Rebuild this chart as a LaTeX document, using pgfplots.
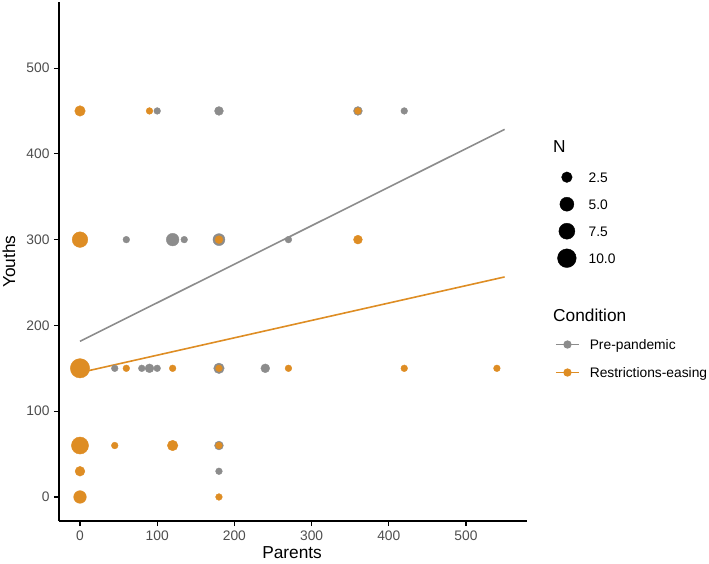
\documentclass[border=0pt]{standalone}
\usepackage{pgfplots}
\pgfplotsset{compat=1.18}
\usepackage{fontspec}
\setmainfont{Liberation Sans}
\definecolor{pre}{HTML}{8C8C8C}
\definecolor{rest}{HTML}{DE8D24}
\definecolor{ticktext}{HTML}{4D4D4D}

\pgfplotstableread{
x y N
100 450 1
180 450 2
360 450 2
420 450 1
60 300 1
120 300 4.5
135 300 1
180 300 4
270 300 1
45 150 1
80 150 1
90 150 2
100 150 1
180 150 3
240 150 2
180 60 2
180 30 1
}\pre

\pgfplotstableread{
x y N
0 450 3
90 450 1
360 450 1
0 300 7
180 300 1.5
360 300 2
0 150 11
60 150 1
120 150 1
180 150 1
270 150 1
420 150 1
540 150 1
0 60 8.5
45 60 1
120 60 3
180 60 1
0 30 2.5
0 0 4.5
180 0 1
}\rest

\pgfplotsset{
  legimg/.style={legend image code/.code={%
    \path (0pt,-1pt) (23pt,1pt);
    \draw[##1,mark repeat=2,mark phase=2] plot coordinates {(0pt,0pt) (11.5pt,0pt) (23pt,0pt)};}},
}

\begin{document}
\begin{tikzpicture}
\path[use as bounding box] (-59pt,-42pt) rectangle (650pt,521pt);
\begin{axis}[
  name=main,
  at={(0pt,0pt)}, anchor=south west,
  scale only axis,
  width=468pt, height=519pt,
  xmin=-27.2, xmax=579, ymin=-28, ymax=577,
  axis lines*=left,
  axis line style={black, line width=1.1pt},
  tick style={black, line width=1.1pt},
  tick align=outside,
  major tick length=5pt,
  xtick={0,100,...,500}, ytick={0,100,...,500},
  /pgf/number format/assume math mode=true,
  tick label style={font=\fontsize{13.8}{16}\selectfont, text=ticktext},
  xticklabel style={yshift=-1pt},
  yticklabel style={xshift=-1pt},
  xlabel={Parents}, ylabel={Youths},
  label style={font=\fontsize{17.3}{20}\selectfont, text=black},
  xlabel style={at={(axis description cs:0.498,-0.0617)}, anchor=center},
  ylabel style={at={(axis description cs:-0.1068,0.5)}, anchor=center, rotate=0},
  clip=false,
  legimg,
  legend style={
    at={(axis description cs:1.0598,0.3597)}, anchor=north west,
    draw=none, fill=none, inner sep=0pt, row sep=8pt, column sep=10pt,
    font=\fontsize{13.8}{16}\selectfont, text=black,
    nodes={inner sep=0pt, minimum height=20pt, text height=9.9pt, text depth=0pt},
  },
  legend cell align=left,
]
\addplot[scatter, only marks, mark=*,
  scatter/use mapped color={draw=pre, fill=pre},
  visualization depends on={sqrt(12+33*\thisrow{N})/2 \as \rad},
  scatter/@pre marker code/.append style={/tikz/mark size=\rad pt},
  forget plot] table[x=x,y=y] {\pre};
\addplot[scatter, only marks, mark=*,
  scatter/use mapped color={draw=rest, fill=rest},
  visualization depends on={sqrt(12+33*\thisrow{N})/2 \as \rad},
  scatter/@pre marker code/.append style={/tikz/mark size=\rad pt},
  forget plot] table[x=x,y=y] {\rest};
\addplot[pre, line width=1.6pt, forget plot] coordinates {(0,181.5) (550,428.5)};
\addplot[rest, line width=1.6pt, forget plot] coordinates {(0,145) (550,256.5)};
\addlegendimage{pre, line width=1.6pt, mark=*, mark size=3.3pt}
\addlegendentry{Pre-pandemic}
\addlegendimage{rest, line width=1.6pt, mark=*, mark size=3.3pt}
\addlegendentry{Restrictions-easing}
\end{axis}
\begin{axis}[
  at={(0pt,0pt)}, anchor=south west,
  scale only axis,
  width=468pt, height=519pt,
  xmin=-27.2, xmax=579, ymin=-28, ymax=577,
  hide axis,
  legimg,
  legend style={
    at={(axis description cs:1.0598,0.6821)}, anchor=north west,
    draw=none, fill=none, inner sep=0pt, row sep=7pt, column sep=10pt,
    font=\fontsize{13.8}{16}\selectfont, text=black,
    nodes={inner sep=0pt, minimum height=20pt, text height=9.9pt, text depth=0pt},
  },
  legend cell align=left,
]
\addplot[draw=none, forget plot] coordinates {(0,0)};
\addlegendimage{only marks, mark=*, black, mark size=5.3pt}
\addlegendentry{2.5}
\addlegendimage{only marks, mark=*, black, mark size=7pt}
\addlegendentry{5.0}
\addlegendimage{only marks, mark=*, black, mark size=8pt}
\addlegendentry{7.5}
\addlegendimage{only marks, mark=*, black, mark size=9.35pt}
\addlegendentry{10.0}
\end{axis}
\node[anchor=west, inner sep=0pt, font=\fontsize{17.3}{20}\selectfont] at (494pt,374pt) {N};
\node[anchor=west, inner sep=0pt, font=\fontsize{17.3}{20}\selectfont] at (494pt,206pt) {Condition};
\end{tikzpicture}
\end{document}
